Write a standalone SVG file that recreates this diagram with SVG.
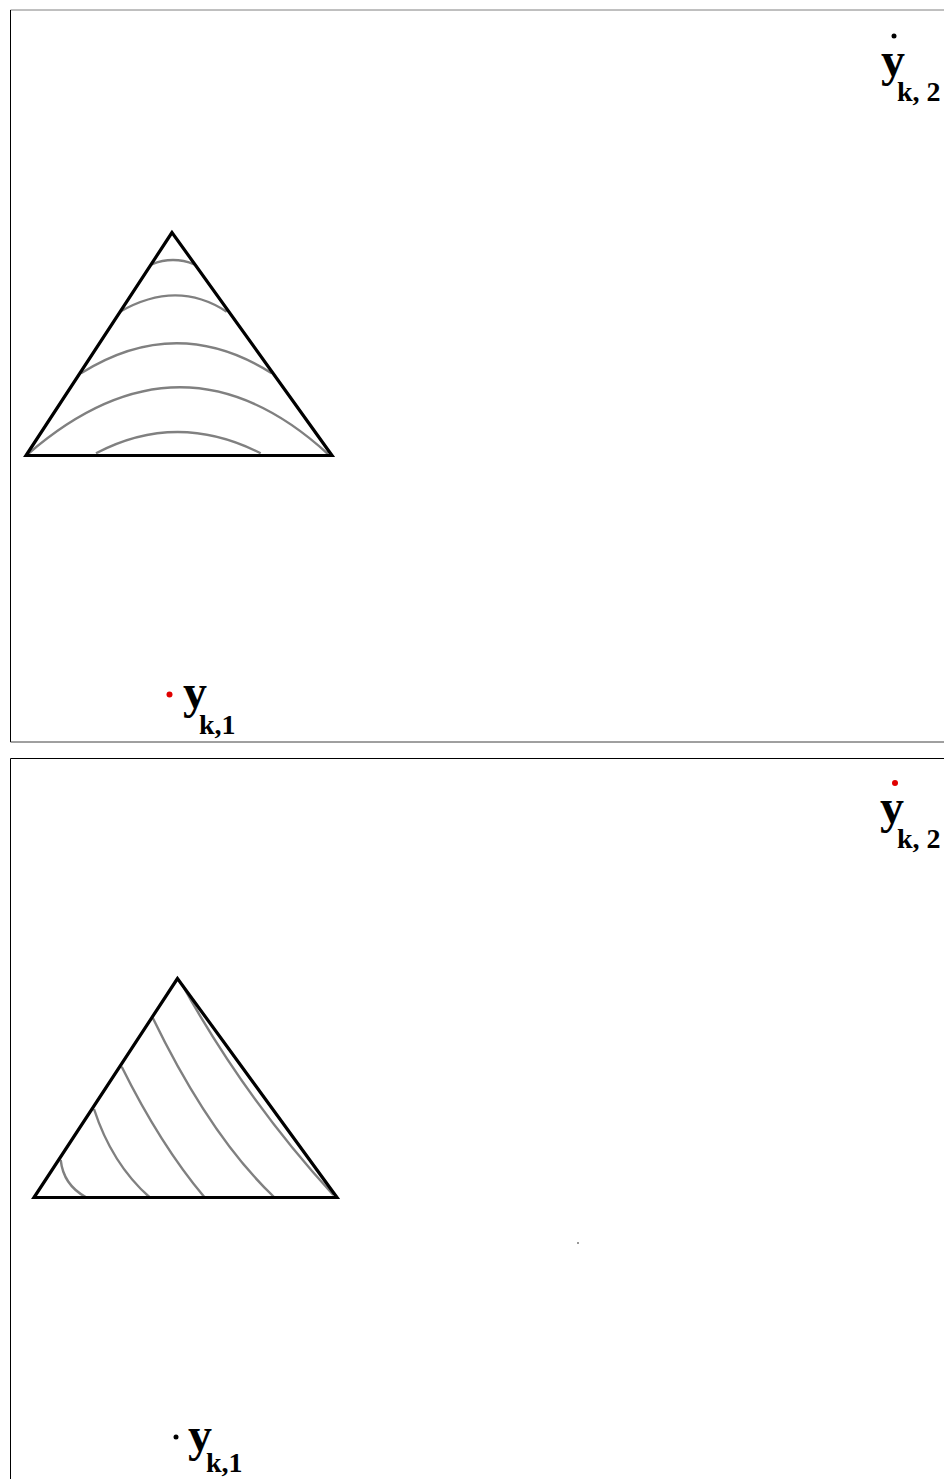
<svg xmlns="http://www.w3.org/2000/svg" width="944" height="1479" viewBox="0 0 944 1479">
<style>
.tri{fill:none;stroke:#000;stroke-width:3.2;stroke-linejoin:miter}
.iso{fill:none;stroke:#808080;stroke-width:2.4}
.lab{font-family:"Liberation Serif","Times New Roman",serif;font-weight:bold;fill:#000}
.big{font-size:48px}
.sub{font-size:28px}
</style>
<rect width="944" height="1479" fill="#fff"/>
<g id="panel1">
<line x1="10.5" y1="10" x2="944" y2="10" stroke="#808080" stroke-width="1"/>
<line x1="10.5" y1="10" x2="10.5" y2="742" stroke="#000" stroke-width="1"/>
<line x1="10.5" y1="742" x2="944" y2="742" stroke="#404040" stroke-width="1"/>
</g>
<g id="panel2">
<line x1="10.5" y1="758.5" x2="944" y2="758.5" stroke="#000" stroke-width="1"/>
<line x1="10.5" y1="758.5" x2="10.5" y2="1479" stroke="#000" stroke-width="1"/>
</g>
<g id="contours1">
<path class="iso" d="M151.7,264.3 Q173,255.7 194.3,264.3"/>
<path class="iso" d="M120,311.7 Q177,279 226.7,311.7"/>
<path class="iso" d="M81,373.3 Q177,313.3 271.7,373.3"/>
<path class="iso" d="M28,454 Q182,320.6 328,454"/>
<path class="iso" d="M96,453.3 Q177,410.7 260.7,453.3"/>
</g>
<g id="triangle1">
<polygon class="tri" points="172,232.5 26,455.5 332,455.5"/>
</g>
<g id="contours2">
<path class="iso" d="M60.7,1160 Q63.4,1184.9 85.7,1197"/>
<path class="iso" d="M94,1109 Q111.7,1163.6 149.3,1197"/>
<path class="iso" d="M121.7,1066.7 Q160.4,1144.8 204.3,1197"/>
<path class="iso" d="M152.7,1017.7 Q210,1136 274,1197"/>
<path class="iso" d="M182.7,985.7 Q246,1099.7 333.3,1195"/>
</g>
<g id="triangle2">
<polygon class="tri" points="177.5,978.5 34,1197.5 337,1197.5"/>
</g>
<g id="label-y-k2-top">
<circle cx="894" cy="36" r="2.5" fill="#000"/>
<text class="lab big" x="881" y="76">y</text>
<text class="lab sub" x="897" y="101">k, 2</text>
</g>
<g id="label-y-k1-top">
<circle cx="169.5" cy="694.5" r="3" fill="#e00000"/>
<text class="lab big" x="183" y="708">y</text>
<text class="lab sub" x="199" y="734">k,1</text>
</g>
<g id="label-y-k2-bottom">
<circle cx="895" cy="783" r="3" fill="#e00000"/>
<text class="lab big" x="880" y="823">y</text>
<text class="lab sub" x="897" y="848">k, 2</text>
</g>
<g id="label-y-k1-bottom">
<circle cx="176" cy="1437" r="2.5" fill="#000"/>
<text class="lab big" x="188" y="1451">y</text>
<text class="lab sub" x="206" y="1472">k,1</text>
</g>
<g id="marker">
<rect x="577" y="1242" width="2" height="2" fill="#999"/>
</g>
</svg>
